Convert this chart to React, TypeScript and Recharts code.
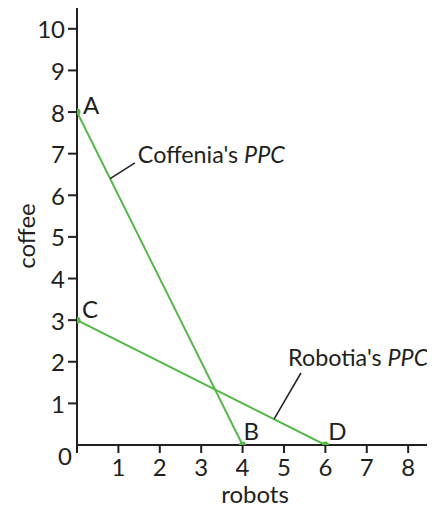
import React from "react";
import {
  LineChart,
  Line,
  XAxis,
  YAxis,
  ReferenceLine,
  ReferenceDot,
  LabelList,
} from "recharts";

// ---- data ----
const xTicks = [0, 1, 2, 3, 4, 5, 6, 7, 8];
const yTicks = [0, 1, 2, 3, 4, 5, 6, 7, 8, 9, 10];

const coffeniaPPC = [
  { x: 0, y: 8, name: "A" },
  { x: 4, y: 0, name: "B" },
];
const robotiaPPC = [
  { x: 0, y: 3, name: "C" },
  { x: 6, y: 0, name: "D" },
];

// callout annotations: anchor on the curve, elbow end, text start
const coffeniaCallout = {
  from: { x: 0.8, y: 6.4 },
  to: { x: 1.4, y: 6.78 },
  text: { x: 1.47, y: 6.78 },
  name: "Coffenia's",
};
const robotiaCallout = {
  from: { x: 4.76, y: 0.62 },
  to: { x: 5.41, y: 1.73 },
  text: { x: 5.1, y: 1.9 },
  name: "Robotia's",
};

// ---- style ----
const FONT = "Lato, 'DejaVu Sans', sans-serif";
const FS = 24;
const FS_CALLOUT = 23.3;
const INK = "#231f20";
const GREEN = "#55b848";

const LABEL_OFFSET: Record<string, { dx: number; dy: number }> = {
  A: { dx: 6, dy: 2 },
  B: { dx: 1, dy: -5 },
  C: { dx: 5, dy: -2 },
  D: { dx: 3, dy: -5 },
};

const YTick = (props: any) => {
  const { x, y, payload } = props;
  if (payload.value === 0) {
    return (
      <text x={x - 5} y={y + 10} textAnchor="end" dominantBaseline="central"
        fontFamily={FONT} fontSize={FS} fill={INK}>0</text>
    );
  }
  return (
    <g>
      <line x1={x - 9} y1={y} x2={x} y2={y} stroke={INK} strokeWidth={2} />
      <text x={x - 12} y={y} textAnchor="end" dominantBaseline="central"
        fontFamily={FONT} fontSize={FS} fill={INK}>{payload.value}</text>
    </g>
  );
};

const XTick = (props: any) => {
  const { x, y, payload } = props;
  return (
    <g>
      <line x1={x} y1={y} x2={x} y2={y + 8} stroke={INK} strokeWidth={2} />
      {payload.value !== 0 && (
        <text x={x} y={y + 21} textAnchor="middle" dominantBaseline="central"
          fontFamily={FONT} fontSize={FS} fill={INK}>{payload.value}</text>
      )}
    </g>
  );
};

const PointLabel = (props: any) => {
  const { x, y, value } = props;
  const o = LABEL_OFFSET[value] || { dx: 0, dy: 0 };
  return (
    <text x={x + o.dx} y={y + o.dy} fontFamily={FONT} fontSize={FS} fill={INK}>
      {value}
    </text>
  );
};

const calloutText = (name: string) => (p: any) => (
  <text x={p.cx} y={p.cy} fontFamily={FONT} fontSize={FS_CALLOUT} fill={INK}>
    {name} <tspan fontStyle="italic">PPC</tspan>
  </text>
);

export default function App() {
  return (
    <div style={{ fontFamily: FONT }}>
      <LineChart
        width={427}
        height={500}
        margin={{ top: 0, right: 2, bottom: 0, left: 0 }}
        style={{ overflow: "visible" }}
      >
        <XAxis
          type="number"
          dataKey="x"
          domain={[0, 8.6]}
          ticks={xTicks}
          interval={0}
          allowDataOverflow
          height={63}
          tickSize={0}
          tickMargin={0}
          tickLine={false}
          axisLine={{ stroke: INK, strokeWidth: 2 }}
          tick={<XTick />}
          label={{
            value: "robots",
            position: "insideBottom",
            offset: 0,
            content: (p: any) => {
              const vb = p.viewBox;
              return (
                <text x={vb.x + vb.width / 2} y={495} textAnchor="middle"
                  fontFamily={FONT} fontSize={FS} fill={INK}>robots</text>
              );
            },
          }}
        />
        <YAxis
          type="number"
          dataKey="y"
          domain={[0, 10.5]}
          ticks={yTicks}
          interval={0}
          allowDataOverflow
          width={69}
          tickSize={0}
          tickMargin={0}
          tickLine={false}
          axisLine={{ stroke: INK, strokeWidth: 2 }}
          tick={<YTick />}
          label={{
            value: "coffee",
            content: () => (
              <text x={27} y={228} textAnchor="middle" transform="rotate(-90 27 228)"
                fontFamily={FONT} fontSize={FS} fill={INK}>coffee</text>
            ),
          }}
        />
        <Line
          data={coffeniaPPC}
          dataKey="y"
          stroke={GREEN}
          strokeWidth={2}
          dot={{ r: 3.5, fill: GREEN, stroke: GREEN, strokeWidth: 0 }}
          isAnimationActive={false}
        >
          <LabelList dataKey="name" content={<PointLabel />} />
        </Line>
        <Line
          data={robotiaPPC}
          dataKey="y"
          stroke={GREEN}
          strokeWidth={2}
          dot={{ r: 3.5, fill: GREEN, stroke: GREEN, strokeWidth: 0 }}
          isAnimationActive={false}
        >
          <LabelList dataKey="name" content={<PointLabel />} />
        </Line>
        <ReferenceLine
          segment={[coffeniaCallout.from, coffeniaCallout.to]}
          stroke={INK}
          strokeWidth={1.5}
          ifOverflow="visible"
        />
        <ReferenceLine
          segment={[robotiaCallout.from, robotiaCallout.to]}
          stroke={INK}
          strokeWidth={1.5}
          ifOverflow="visible"
        />
        <ReferenceDot
          x={coffeniaCallout.text.x}
          y={coffeniaCallout.text.y}
          ifOverflow="visible"
          shape={calloutText(coffeniaCallout.name)}
        />
        <ReferenceDot
          x={robotiaCallout.text.x}
          y={robotiaCallout.text.y}
          ifOverflow="visible"
          shape={calloutText(robotiaCallout.name)}
        />
      </LineChart>
    </div>
  );
}
